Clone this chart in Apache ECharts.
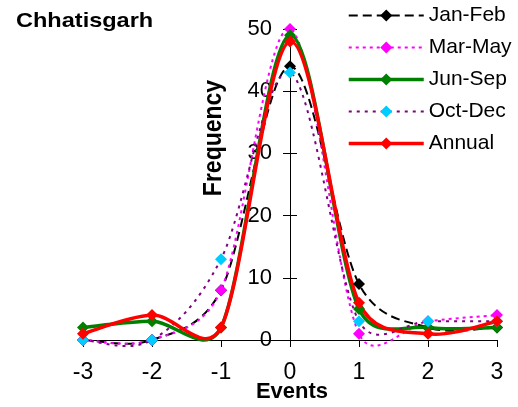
<!DOCTYPE html>
<html>
<head>
<meta charset="utf-8">
<script src="https://cdn.jsdelivr.net/npm/echarts@6/dist/echarts.min.js"></script>
<style>html,body{margin:0;padding:0;background:#fff}#c{width:518px;height:407px}</style>
</head>
<body>
<div id="c"></div>
<script>
var events = [-3, -2, -1, 0, 1, 2, 3];
var janFeb = [0, 0, 8, 44, 9, 2, 2];
var marMay = [0, 0, 8, 50, 1, 3, 4];
var junSep = [2, 3, 2, 49, 5, 2, 2];
var octDec = [0, 0, 13, 43, 3, 3, 3];
var annual = [1, 4, 2, 48, 6, 1, 3];
var yTicks = [0, 10, 20, 30, 40, 50];
var xTicks = [-3, -2, -1, 0, 1, 2, 3];

function pairs(vals) { return events.map(function (x, i) { return [x, vals[i]]; }); }

var font = 'Arial, "Liberation Sans", sans-serif';

// Excel-like smoothed curve through points given in pixel space
function smoothPath(pts) {
  var n = pts.length;
  function dist(a, b) { return Math.sqrt((a[0] - b[0]) * (a[0] - b[0]) + (a[1] - b[1]) * (a[1] - b[1])); }
  function handle(v, seg) {
    var hx = v[0] / 6, hy = v[1] / 6;
    var len = Math.sqrt(hx * hx + hy * hy), lim = seg * 0.5;
    if (len > lim && len > 0) { hx *= lim / len; hy *= lim / len; }
    return [hx, hy];
  }
  var d = 'M' + pts[0][0] + ' ' + pts[0][1];
  for (var i = 0; i < n - 1; i++) {
    var p0 = pts[Math.max(i - 1, 0)], p1 = pts[i], p2 = pts[i + 1], p3 = pts[Math.min(i + 2, n - 1)];
    var seg = dist(p1, p2);
    var h1 = handle([p2[0] - p0[0], p2[1] - p0[1]], seg);
    var h2 = handle([p3[0] - p1[0], p3[1] - p1[1]], seg);
    d += ' C' + (p1[0] + h1[0]) + ' ' + (p1[1] + h1[1]) + ' ' + (p2[0] - h2[0]) + ' ' + (p2[1] - h2[1]) + ' ' + p2[0] + ' ' + p2[1];
  }
  return d;
}

function curve(name, vals, color, width, dash) {
  return {
    name: name + ' curve', type: 'custom', coordinateSystem: 'cartesian2d', xAxisIndex: 0, yAxisIndex: 0,
    data: [[0, 0]], silent: true, clip: false,
    renderItem: function (params, api) {
      var pts = events.map(function (x, i) { return api.coord([x, vals[i]]); });
      return {
        type: 'path', shape: {pathData: smoothPath(pts)},
        style: {fill: 'none', stroke: color, lineWidth: width, lineDash: dash, lineCap: 'butt', lineJoin: 'round'}
      };
    }
  };
}

function points(name, vals, lineColor, symColor, width, type) {
  return {
    name: name, type: 'line', xAxisIndex: 0, yAxisIndex: 0, data: pairs(vals),
    symbol: 'diamond', symbolSize: 12, showSymbol: true,
    lineStyle: {color: lineColor, width: width, type: type, opacity: 0},
    itemStyle: {color: symColor, borderWidth: 0},
    emphasis: {disabled: true}
  };
}

var styles = [
  {name: 'Jan-Feb', vals: janFeb, line: '#000000', sym: '#000000', w: 2, type: [9, 5]},
  {name: 'Mar-May', vals: marMay, line: '#FF00FF', sym: '#FF00FF', w: 2, type: [3, 4]},
  {name: 'Jun-Sep', vals: junSep, line: '#008000', sym: '#008000', w: 3.5, type: 'solid'},
  {name: 'Oct-Dec', vals: octDec, line: '#800080', sym: '#00CCFF', w: 2, type: [3, 5]},
  {name: 'Annual', vals: annual, line: '#FF0000', sym: '#FF0000', w: 3.5, type: 'solid'}
];

var series = [];
styles.forEach(function (s) {
  series.push(curve(s.name, s.vals, s.line, s.w, s.type === 'solid' ? null : s.type));
  series.push(points(s.name, s.vals, s.line, s.sym, s.w, s.type));
});

var chart = echarts.init(document.getElementById('c'), null, {renderer: 'canvas'});
chart.setOption({
  animation: false,
  grid: [
    {left: 83, right: 21, top: 29, bottom: 67},
    {left: 290, right: 21, top: 29, bottom: 67}
  ],
  legend: {
    orient: 'vertical', left: 347, top: 5, padding: 0, itemWidth: 75, itemHeight: 15, itemGap: 11, itemTextGap: 5,
    textStyle: {fontFamily: font, fontSize: 21, color: '#000', lineHeight: 20},
    data: styles.map(function (s) {
      return {name: s.name, lineStyle: {color: s.line, width: s.w, type: s.type, opacity: 1}, itemStyle: {color: s.sym}};
    })
  },
  xAxis: [{
    gridIndex: 0, type: 'value', min: -3, max: 3, interval: 1,
    axisLine: {show: true, onZero: false, lineStyle: {color: '#000', width: 1}},
    axisTick: {show: true, length: 7, lineStyle: {color: '#000'}},
    axisLabel: {fontFamily: font, fontSize: 23, color: '#000', margin: 21,
      formatter: function (v) { return xTicks.indexOf(v) >= 0 ? String(v) : ''; }},
    splitLine: {show: false}
  }, {
    gridIndex: 1, type: 'value', min: 0, max: 3, show: false
  }],
  yAxis: [{
    gridIndex: 0, type: 'value', min: 0, max: 50, interval: 10, show: false
  }, {
    gridIndex: 1, type: 'value', min: 0, max: 50, interval: 10, position: 'left',
    axisLine: {show: true, onZero: false, lineStyle: {color: '#000', width: 1}},
    axisTick: {show: true, length: 7, lineStyle: {color: '#000'}},
    axisLabel: {fontFamily: font, fontSize: 22, color: '#000', margin: 18,
      formatter: function (v) { return yTicks.indexOf(v) >= 0 ? String(v) : ''; }},
    splitLine: {show: false}
  }, {
    gridIndex: 1, type: 'value', min: 0, max: 50, interval: 10, position: 'left',
    axisLine: {show: false, onZero: false},
    axisTick: {show: true, inside: true, length: 7, lineStyle: {color: '#000'}},
    axisLabel: {show: false},
    splitLine: {show: false}
  }],
  graphic: [
    {type: 'text', x: 16, y: 21, scaleX: 1.12, style: {text: 'Chhatisgarh', font: 'bold 21px ' + font, fill: '#000', textVerticalAlign: 'middle'}},
    {type: 'text', x: 292, y: 392, style: {text: 'Events', font: 'bold 22px ' + font, fill: '#000', textAlign: 'center', textVerticalAlign: 'middle'}},
    {type: 'text', x: 214, y: 138, rotation: Math.PI / 2, scaleY: 1.1, style: {text: 'Frequency', font: 'bold 23px ' + font, fill: '#000', textAlign: 'center', textVerticalAlign: 'middle'}}
  ],
  series: series
});
</script>
</body>
</html>
